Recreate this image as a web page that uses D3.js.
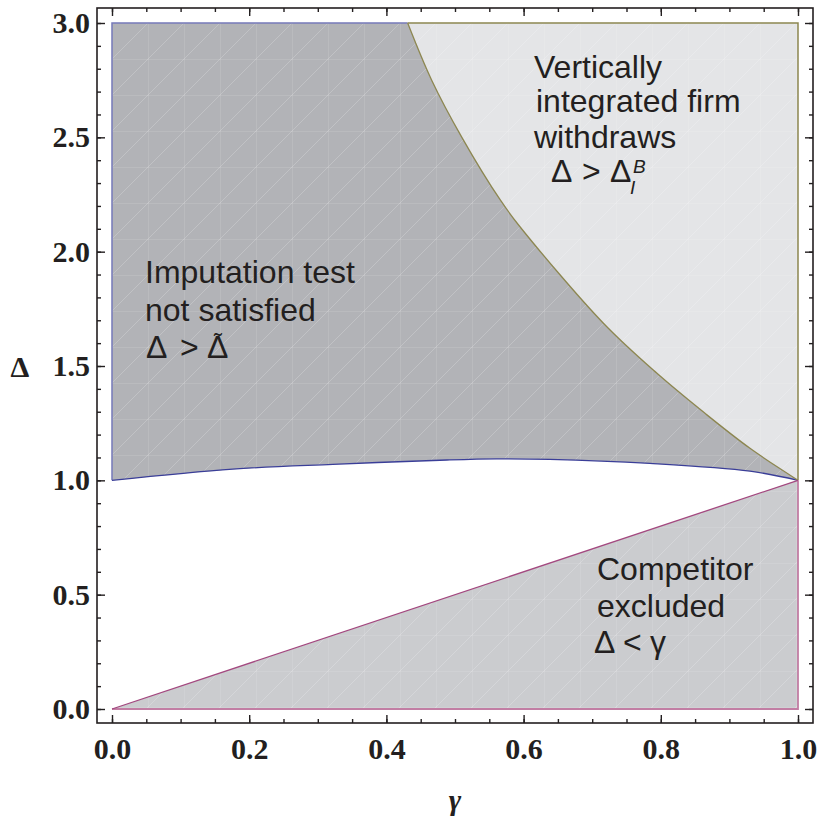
<!DOCTYPE html>
<html>
<head>
<meta charset="utf-8">
<script src="https://cdn.jsdelivr.net/npm/d3@7"></script>
<style>
  body { margin: 0; background: #fff; }
  .tk text { font-family: "Liberation Serif", "Times New Roman", serif; font-weight: bold; font-size: 30px; fill: #231f20; }
  .tk line { stroke: #231f20; stroke-width: 1.4; }
  .lbl { font-family: "Liberation Sans", Arial, sans-serif; font-size: 32px; fill: #231f20; }
</style>
</head>
<body>
<div id="graf"></div>
<script>
// valores
const xTicks = [0, 0.2, 0.4, 0.6, 0.8, 1.0]
const yTicks = [0, 0.5, 1.0, 1.5, 2.0, 2.5, 3.0]
const xMinor = d3.range(0, 1.0001, 0.05)
const yMinor = d3.range(0, 3.0001, 0.1)

// curva inferior de la region oscura (Delta tilde)
const tildeGamma = [0, 0.176, 0.322, 0.488, 0.56, 0.638, 0.784, 0.93, 1.0]
const tildeDelta = [1.0, 1.049, 1.070, 1.089, 1.094, 1.092, 1.074, 1.04, 1.0]

// curva de retiro (Delta_I^B)
const withGamma = [0.431, 0.466, 0.510, 0.566, 0.595, 0.716, 0.794, 0.864, 0.93, 1.0]
const withDelta = [3.0, 2.75, 2.5, 2.226, 2.108, 1.688, 1.469, 1.294, 1.14, 1.0]

// competidor excluido: Delta < gamma
const compGamma = [0, 1]
const compDelta = [0, 1]

const W = 820, H = 821
const svg = d3.select('#graf').append('svg')
  .attr('width', W).attr('height', H)

const x = d3.scaleLinear().domain([0, 1]).range([112, 798])
const y = d3.scaleLinear().domain([0, 3]).range([709, 23])
const frame = { left: 97, right: 813, top: 8, bottom: 723 }

const tilde = tildeGamma.map((g, i) => [g, tildeDelta[i]])
const withd = withGamma.map((g, i) => [g, withDelta[i]])
const comp = compGamma.map((g, i) => [g, compDelta[i]])

const recta = d3.line().x(d => x(d[0])).y(d => y(d[1]))
const curva = d3.line().x(d => x(d[0])).y(d => y(d[1])).curve(d3.curveCatmullRom)
const cont = p => 'L' + p.slice(1)   // seguir el trazo sin 'M'

// malla tenue tipo Mathematica
const defs = svg.append('defs')
const pat = defs.append('pattern').attr('id', 'malla')
  .attr('patternUnits', 'userSpaceOnUse')
  .attr('x', x(0)).attr('y', y(3)).attr('width', 36).attr('height', 36)
pat.append('path').attr('d', 'M0,0H36M0,0V36M0,36L36,0')
  .attr('stroke', '#ffffff').attr('stroke-opacity', 0.2).attr('stroke-width', 1).attr('fill', 'none')

// region oscura: prueba de imputacion no satisfecha
const darkPath = 'M' + x(0) + ',' + y(3) + 'L' + x(withGamma[0]) + ',' + y(3) +
  cont(curva(withd)) + cont(curva(tilde.slice().reverse())) + 'Z'
// region clara: la firma integrada se retira
const lightPath = 'M' + x(1) + ',' + y(3) + 'L' + x(1) + ',' + y(1) +
  cont(curva(withd.slice().reverse())) + 'Z'
const compPath = recta(comp.concat([[1, 0]])) + 'Z'

svg.append('path').attr('d', darkPath).attr('fill', '#b2b3b7')
svg.append('path').attr('d', lightPath).attr('fill', '#e4e5e7')
svg.append('path').attr('d', compPath).attr('fill', '#cbcccf')
;[darkPath, lightPath, compPath].forEach(p => {
  svg.append('path').attr('d', p).attr('fill', 'url(#malla)')
})

// bordes
svg.append('path')
  .attr('d', recta([[0, 1], [0, 3], [withGamma[0], 3]]))
  .attr('fill', 'none').attr('stroke', '#7478b8').attr('stroke-width', 1.5)
svg.append('path')
  .attr('d', curva(tilde))
  .attr('fill', 'none').attr('stroke', '#3a3e98').attr('stroke-width', 1.3)
svg.append('path')
  .attr('d', curva(withd))
  .attr('fill', 'none').attr('stroke', '#8c8650').attr('stroke-width', 1.3)
svg.append('path')
  .attr('d', recta([[withGamma[0], 3], [1, 3], [1, 1]]))
  .attr('fill', 'none').attr('stroke', '#8c8650').attr('stroke-width', 1.5)
svg.append('path')
  .attr('d', recta([[1, 1], [1, 0], [0, 0]]))
  .attr('fill', 'none').attr('stroke', '#c27ea4').attr('stroke-width', 1.8)
svg.append('path')
  .attr('d', recta(comp))
  .attr('fill', 'none').attr('stroke', '#a3487f').attr('stroke-width', 1.3)

// marco
svg.append('rect')
  .attr('x', frame.left).attr('y', frame.top)
  .attr('width', frame.right - frame.left).attr('height', frame.bottom - frame.top)
  .attr('fill', 'none').attr('stroke', '#231f20').attr('stroke-width', 1.6)

function ejes(axis, tx, ty) {
  const g = svg.append('g').attr('class', 'tk')
    .attr('transform', `translate(${tx}, ${ty})`).call(axis)
  g.select('.domain').remove()
  return g
}

ejes(d3.axisBottom(x).tickValues(xTicks).tickSize(-8).tickPadding(15).tickFormat(d3.format('.1f')), 0, frame.bottom)
ejes(d3.axisBottom(x).tickValues(xMinor).tickSize(-4).tickFormat(''), 0, frame.bottom)
ejes(d3.axisTop(x).tickValues(xTicks).tickSize(-8).tickFormat(''), 0, frame.top)
ejes(d3.axisTop(x).tickValues(xMinor).tickSize(-4).tickFormat(''), 0, frame.top)
ejes(d3.axisLeft(y).tickValues(yTicks).tickSize(-8).tickPadding(7).tickFormat(d3.format('.1f')), frame.left, 0)
ejes(d3.axisLeft(y).tickValues(yMinor).tickSize(-4).tickFormat(''), frame.left, 0)
ejes(d3.axisRight(y).tickValues(yTicks).tickSize(-8).tickFormat(''), frame.right, 0)
ejes(d3.axisRight(y).tickValues(yMinor).tickSize(-4).tickFormat(''), frame.right, 0)

// titulos de ejes
svg.append('text')
  .attr('x', 455).attr('y', 810).attr('text-anchor', 'middle')
  .style('font-family', '"Liberation Serif", serif').style('font-weight', 'bold')
  .style('font-style', 'italic').style('font-size', '30px').attr('fill', '#231f20')
  .text('γ')
svg.append('text')
  .attr('x', 20).attr('y', y(1.5)).attr('dy', '0.35em').attr('text-anchor', 'middle')
  .style('font-family', '"Liberation Serif", serif').style('font-weight', 'bold')
  .style('font-size', '30px').attr('fill', '#231f20')
  .text('Δ')

// anotaciones
function texto(tx, ty, s, size, italic) {
  const t = svg.append('text').attr('class', 'lbl').attr('x', tx).attr('y', ty).text(s)
  if (size) t.style('font-size', size + 'px')
  if (italic) t.style('font-style', 'italic')
  return t
}
texto(534, 78, 'Vertically')
texto(536, 112, 'integrated firm')
texto(534, 148, 'withdraws')
texto(551, 182, 'Δ')
texto(582, 182, '>')
texto(610, 182, 'Δ')
texto(630, 194, 'I', 19, true)
texto(633, 173, 'B', 19, true)

texto(145, 283, 'Imputation test')
texto(145, 321, 'not satisfied')
texto(146, 358, 'Δ')
texto(180, 358, '>')
const dt = texto(207, 358, 'Δ')
dt.append('tspan').attr('dx', -14.5).attr('dy', -8).style('font-size', '24px').text('˜')

texto(597, 580, 'Competitor')
texto(597, 617, 'excluded')
texto(594, 653, 'Δ')
texto(623, 653, '<')
texto(650, 653, 'γ')
</script>
</body>
</html>
